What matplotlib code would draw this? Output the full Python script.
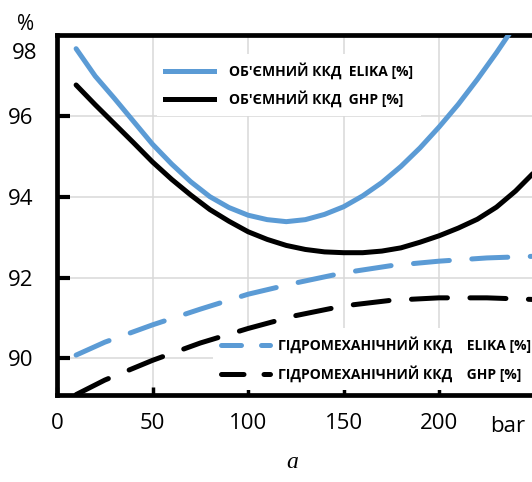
import matplotlib
matplotlib.use("Agg")
import matplotlib.pyplot as plt
from matplotlib.lines import Line2D
from matplotlib.transforms import blended_transform_factory

plt.rcParams['font.family'] = ['Open Sans', 'DejaVu Sans']

# pressure, bar
x_vol_elika = [10, 20, 30, 40, 50, 60, 70, 80, 90, 100, 110, 120, 130, 140, 150,
               160, 170, 180, 190, 200, 210, 220, 230, 236, 240]
y_vol_elika = [97.68, 97.0, 96.45, 95.88, 95.31, 94.82, 94.38, 94.01, 93.74, 93.55,
               93.44, 93.39, 93.44, 93.57, 93.76, 94.03, 94.36, 94.76, 95.22, 95.74,
               96.3, 96.92, 97.58, 98.0, 98.27]

x_vol_ghp = [10, 20, 30, 40, 50, 60, 70, 80, 90, 100, 110, 120, 130, 140, 150,
             160, 170, 180, 190, 200, 210, 220, 230, 240, 249]
y_vol_ghp = [96.78, 96.29, 95.82, 95.35, 94.87, 94.44, 94.05, 93.69, 93.40, 93.14,
             92.95, 92.8, 92.7, 92.64, 92.62, 92.62, 92.66, 92.74, 92.88, 93.04,
             93.23, 93.45, 93.75, 94.15, 94.58]

x_hm = [10, 25, 50, 75, 100, 125, 150, 175, 200, 225, 249]
y_hm_elika = [90.08, 90.4, 90.83, 91.22, 91.59, 91.87, 92.12, 92.3, 92.41, 92.49, 92.53]
y_hm_ghp = [89.1, 89.46, 89.95, 90.38, 90.74, 91.06, 91.3, 91.44, 91.5, 91.5, 91.46]

xticks = [0, 50, 100, 150, 200]
yticks = [90, 92, 94, 96]

blue = '#5b9bd5'
lw = 3.6
dash = (0, (7.2, 4.5))

fig = plt.figure(figsize=(5.32, 4.82), dpi=100)
ax = fig.add_axes([57 / 532, 1 - 395 / 482, 475 / 532, 360 / 482])

ax.plot(x_vol_elika, y_vol_elika, color=blue, lw=lw, zorder=3,
        solid_capstyle='round', solid_joinstyle='round')
ax.plot(x_vol_ghp, y_vol_ghp, color='black', lw=lw, zorder=3,
        solid_capstyle='round', solid_joinstyle='round')
ax.plot(x_hm, y_hm_elika, color=blue, lw=lw, ls=dash, dash_capstyle='round', zorder=3)
ax.plot(x_hm, y_hm_ghp, color='black', lw=lw, ls=dash, dash_capstyle='round', zorder=3)

ax.set_xlim(0, 248.6)
ax.set_ylim(89.09, 98.02)
ax.set_xticks(xticks)
ax.set_yticks(yticks)
ax.grid(True, color='#d9d9d9', lw=1.1)
ax.set_axisbelow(True)

for s in ['left', 'bottom', 'top']:
    ax.spines[s].set_linewidth(3.4)
ax.spines['right'].set_visible(False)

ax.tick_params(axis='y', direction='in', length=9.5, width=3, pad=17, labelsize=16)
ax.tick_params(axis='x', direction='in', length=6, width=2.5, pad=13, labelsize=16)

ax.text(-0.042, 97.55, '98', transform=blended_transform_factory(ax.transAxes, ax.transData),
        ha='right', va='center', fontsize=16)
fig.text(26 / 532, 1 - 25 / 482, '%', ha='center', va='center', fontsize=15)
ax.text(236, -0.057, 'bar', transform=blended_transform_factory(ax.transData, ax.transAxes),
        ha='center', va='top', fontsize=16)
fig.text(292 / 532, 1 - 463 / 482, 'a', ha='center', va='center', fontsize=17,
         family='Liberation Serif', style='italic')

# legends
h1 = [Line2D([], [], color=blue, lw=lw), Line2D([], [], color='black', lw=lw)]
l1 = ["ОБ'ЄМНИЙ ККД  ELIKA [%]", "ОБ'ЄМНИЙ ККД  GHP [%]"]
leg1 = ax.legend(h1, l1, loc='center left', bbox_to_anchor=(0.195, 0.861), frameon=True,
                 facecolor='white', edgecolor='none', framealpha=1, fancybox=False,
                 prop={'weight': 'bold', 'size': 10}, handlelength=3.5,
                 handletextpad=1.1, labelspacing=0.8, borderpad=0.6)
leg1.set_zorder(2)
ax.add_artist(leg1)

h2 = [Line2D([], [], color=blue, lw=lw, ls=(0, (4, 4)), dash_capstyle='round'),
      Line2D([], [], color='black', lw=lw, ls=(0, (4.5, 4)), dash_capstyle='round')]
l2 = ["ГІДРОМЕХАНІЧНИЙ ККД    ELIKA [%]", "ГІДРОМЕХАНІЧНИЙ ККД    GHP [%]"]
leg2 = ax.legend(h2, l2, loc='center left', bbox_to_anchor=(0.313, 0.1), frameon=True,
                 facecolor='white', edgecolor='none', framealpha=1, fancybox=False,
                 prop={'weight': 'bold', 'size': 10}, handlelength=3.5,
                 handletextpad=0.6, labelspacing=0.85, borderpad=0.6)
leg2.set_zorder(2)

fig.savefig('out.png', dpi=100)
